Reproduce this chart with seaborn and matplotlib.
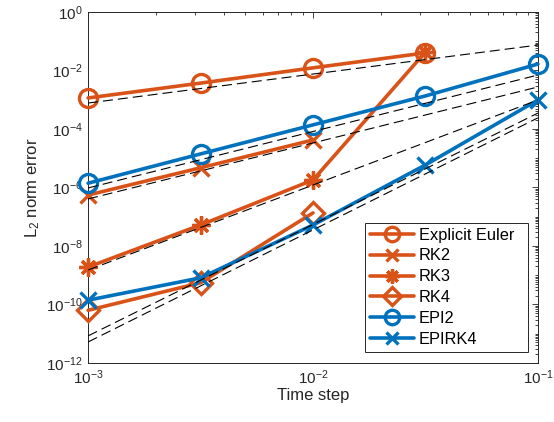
import numpy as np
import pandas as pd
import matplotlib
matplotlib.use("Agg")
import matplotlib.pyplot as plt
import seaborn as sns
from matplotlib.ticker import FixedLocator, FixedFormatter, LogLocator, NullFormatter

# ---- data ----
time_steps = [1e-3, 3.1623e-3, 1e-2, 3.1623e-2, 1e-1]
euler = [1.15e-3, 3.7e-3, 1.23e-2, 4.0e-2]
rk2 = [5.5e-7, 4.7e-6, 4.2e-5]
rk3 = [1.9e-9, 5.2e-8, 1.8e-6, 4.3e-2]
rk4 = [6.3e-11, 5.5e-10, 1.35e-7]
epi2 = [1.4e-6, 1.4e-5, 1.38e-4, 1.35e-3, 1.66e-2]
epirk4 = [1.4e-10, 8.1e-10, 5.2e-8, 5.9e-6, 9.8e-4]

# reference (dashed) lines: values at the two ends of the time-step range
ref_x = [1e-3, 1e-1]
ref_euler = [7.7e-4, 7.4e-2]
ref_epi2 = [9.6e-7, 7.0e-3]
ref_rk2 = [4.05e-7, 2.73e-3]
ref_rk3 = [1.5e-9, 9.8e-4]
ref_rk4 = [8.4e-12, 3.5e-4]
ref_epirk4 = [5.2e-12, 2.4e-4]

series_names = ["Explicit Euler", "RK2", "RK3", "RK4", "EPI2", "EPIRK4"]
series_values = [euler, rk2, rk3, rk4, epi2, epirk4]
ref_values = [ref_euler, ref_epi2, ref_rk2, ref_rk3, ref_rk4, ref_epirk4]

xticks = [1e-3, 1e-2, 1e-1]
xtick_labels = ["-3", "-2", "-1"]
yticks = [1e-12, 1e-10, 1e-8, 1e-6, 1e-4, 1e-2, 1e0]
ytick_labels = ["-12", "-10", "-8", "-6", "-4", "-2", "0"]

# ---- style ----
sns.set_theme(style="white")
plt.rcParams["font.family"] = ["Liberation Sans", "DejaVu Sans"]
plt.rcParams["mathtext.fontset"] = "custom"
plt.rcParams["mathtext.rm"] = "Liberation Sans"
plt.rcParams["mathtext.it"] = "Liberation Sans"
plt.rcParams["mathtext.bf"] = "Liberation Sans"

ORANGE = "#D95319"
BLUE = "#0072BD"
TXT = "#262626"

colors = [ORANGE, ORANGE, ORANGE, ORANGE, BLUE, BLUE]
markers = ["o", "x", (8, 2, 0), "D", "o", "x"]
msizes = [13, 11, 13, 11, 13, 11]

fig = plt.figure(figsize=(5.54, 4.22), dpi=100)
ax = fig.add_axes([0.159, 0.140, 0.812, 0.8316])
ax.set_xscale("log")
ax.set_yscale("log")

for name, vals, c, m, ms in zip(series_names, series_values, colors, markers, msizes):
    df = pd.DataFrame({"dt": time_steps[:len(vals)], "err": vals})
    sns.lineplot(data=df, x="dt", y="err", ax=ax, color=c, lw=2.6,
                 marker=m, markersize=ms, markerfacecolor="none",
                 markeredgecolor=c, markeredgewidth=2.4, label=name,
                 estimator=None, sort=False, clip_on=False, zorder=3)

for rv in ref_values:
    dfr = pd.DataFrame({"dt": ref_x, "err": rv})
    sns.lineplot(data=dfr, x="dt", y="err", ax=ax, color="black", lw=0.8,
                 estimator=None, legend=False, zorder=4)
for line in ax.get_lines()[-len(ref_values):]:
    line.set_linestyle((0, (9, 4.5)))

ax.set_xlim(1e-3, 1e-1)
ax.set_ylim(1e-12, 1e0)

ax.xaxis.set_major_locator(FixedLocator(xticks))
ax.xaxis.set_major_formatter(FixedFormatter([r"$10^{%s}$" % s for s in xtick_labels]))
ax.xaxis.set_minor_locator(LogLocator(base=10, subs=np.arange(2, 10), numticks=20))
ax.xaxis.set_minor_formatter(NullFormatter())
ax.yaxis.set_major_locator(FixedLocator(yticks))
ax.yaxis.set_major_formatter(FixedFormatter([r"$10^{%s}$" % s for s in ytick_labels]))
ax.yaxis.set_minor_locator(LogLocator(base=10, subs=np.arange(1, 10), numticks=30))
ax.yaxis.set_minor_formatter(NullFormatter())

ax.tick_params(which="both", direction="in", top=True, right=True, colors=TXT,
               labelsize=11, width=0.6)
ax.tick_params(which="major", length=4.5, pad=4)
ax.tick_params(which="minor", length=2.5)
for sp in ax.spines.values():
    sp.set_color(TXT)
    sp.set_linewidth(0.7)

ax.set_xlabel("Time step", fontsize=12, color=TXT, labelpad=1)
ax.set_ylabel(r"L$_2$ norm error", fontsize=12, color=TXT, labelpad=3)

leg = ax.legend(loc="lower left", bbox_to_anchor=(0.6156, 0.0313, 0.3622, 0.35),
                mode="expand", fontsize=11.8, frameon=True, fancybox=False,
                edgecolor=TXT, handlelength=2.7, handletextpad=0.3,
                borderpad=0.3, labelspacing=0.36, borderaxespad=0,
                markerscale=0.8, framealpha=1)
leg.get_frame().set_linewidth(0.7)
leg.set_zorder(10)
for t in leg.get_texts():
    t.set_color("black")

fig.savefig("out.png", dpi=100)
